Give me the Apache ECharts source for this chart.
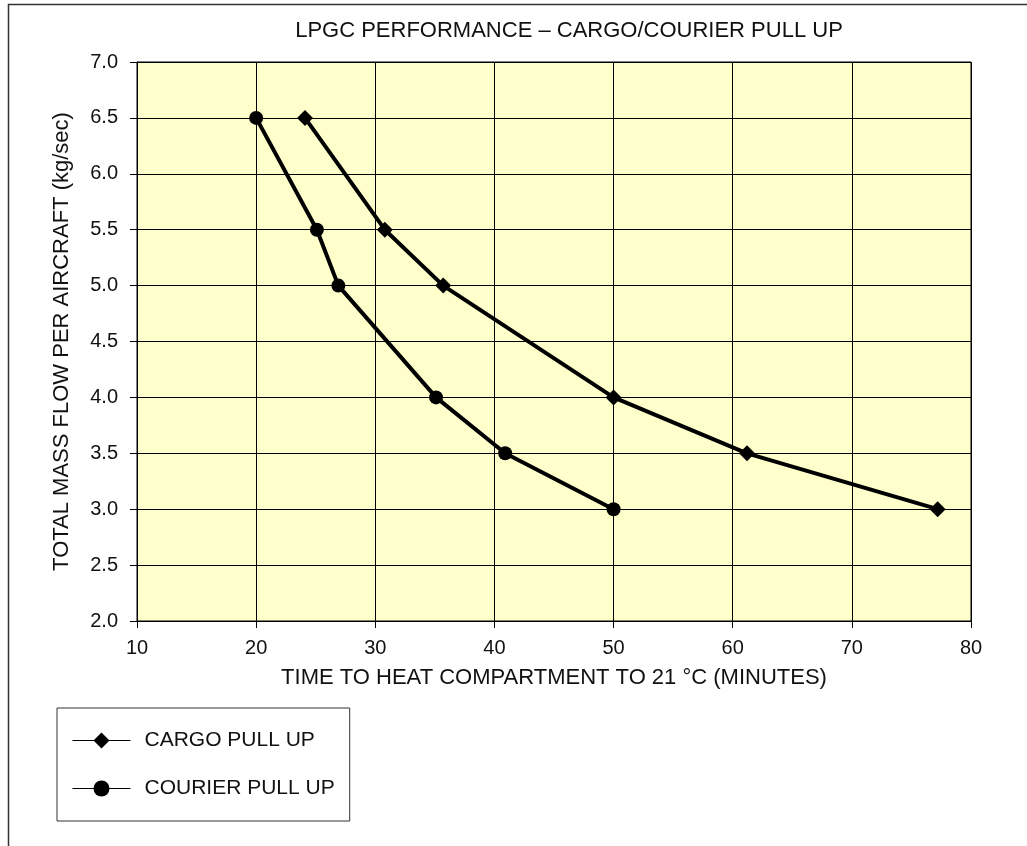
<!DOCTYPE html>
<html>
<head>
<meta charset="utf-8">
<script src="https://cdn.jsdelivr.net/npm/echarts@6/dist/echarts.min.js"></script>
<style>
  html, body { margin: 0; padding: 0; background: #fff; }
  #chart { width: 1027px; height: 846px; }
</style>
</head>
<body>
<div id="chart"></div>
<script>
// values
const cargoX = [24.1, 30.8, 35.7, 50, 61.2, 77.2];
const cargoY = [6.5, 5.5, 5.0, 4.0, 3.5, 3.0];
const courierX = [20, 25.1, 26.9, 35.1, 40.9, 50];
const courierY = [6.5, 5.5, 5.0, 4.0, 3.5, 3.0];
const seriesNames = ['CARGO PULL UP', 'COURIER PULL UP'];

const font = "'Liberation Sans', Arial, Helvetica, sans-serif";

function pairs(xs, ys) {
    return xs.map(function (x, i) { return [x, ys[i]]; });
}

const chart = echarts.init(document.getElementById('chart'));

const option = {
    backgroundColor: '#ffffff',
    textStyle: { fontFamily: font },
    title: {
        text: 'LPGC PERFORMANCE \u2013 CARGO/COURIER PULL UP',
        left: 564,
        top: 15,
        textAlign: 'center',
        textStyle: { fontFamily: font, fontSize: 22, fontWeight: 'normal', color: '#111' }
    },
    graphic: [{
        type: 'rect',
        shape: { x: 8.5, y: 4.5, width: 1100, height: 1000 },
        style: { fill: 'none', stroke: '#333', lineWidth: 1.5 },
        silent: true,
        z: -1
    }],
    legend: {
        orient: 'vertical',
        left: 57,
        top: 708,
        padding: [22, 15, 22, 15],
        itemWidth: 58,
        itemHeight: 20,
        itemGap: 27,
        borderColor: '#333',
        borderWidth: 1,
        lineStyle: { width: 1, color: '#000' },
        textStyle: { fontFamily: font, fontSize: 21, color: '#111', padding: [0, 0, 0, 9] },
        data: seriesNames
    },
    grid: {
        left: 137,
        top: 62,
        right: 56,
        bottom: 225,
        show: true,
        backgroundColor: '#FFFFCC',
        borderColor: '#000',
        borderWidth: 1
    },
    xAxis: {
        type: 'value',
        min: 10,
        max: 80,
        interval: 10,
        name: 'TIME TO HEAT COMPARTMENT TO 21 \u00B0C (MINUTES)',
        nameLocation: 'middle',
        nameGap: 46,
        nameTextStyle: { fontFamily: font, fontSize: 22, color: '#111' },
        axisLine: { lineStyle: { color: '#000', width: 1 } },
        axisTick: { show: true, length: 7, lineStyle: { color: '#000' } },
        axisLabel: { fontFamily: font, fontSize: 20, color: '#111', margin: 17 },
        splitLine: { show: true, lineStyle: { color: '#000', width: 1 } }
    },
    yAxis: {
        type: 'value',
        min: 2,
        max: 7,
        interval: 0.5,
        name: 'TOTAL MASS FLOW PER AIRCRAFT (kg/sec)',
        nameLocation: 'middle',
        nameGap: 64,
        nameTextStyle: { fontFamily: font, fontSize: 22, color: '#111' },
        axisLine: { show: true, lineStyle: { color: '#000', width: 1 } },
        axisTick: { show: true, length: 7, lineStyle: { color: '#000' } },
        axisLabel: {
            fontFamily: font, fontSize: 20, color: '#111', margin: 19,
            formatter: function (v) { return v.toFixed(1); }
        },
        splitLine: { show: true, lineStyle: { color: '#000', width: 1 } }
    },
    series: [
        {
            name: seriesNames[0],
            type: 'line',
            data: pairs(cargoX, cargoY),
            symbol: 'diamond',
            symbolSize: 16,
            lineStyle: { color: '#000', width: 4 },
            itemStyle: { color: '#000' },
            animation: false
        },
        {
            name: seriesNames[1],
            type: 'line',
            data: pairs(courierX, courierY),
            symbol: 'circle',
            symbolSize: 14,
            lineStyle: { color: '#000', width: 4 },
            itemStyle: { color: '#000' },
            animation: false
        }
    ]
};

chart.setOption(option);
</script>
</body>
</html>
